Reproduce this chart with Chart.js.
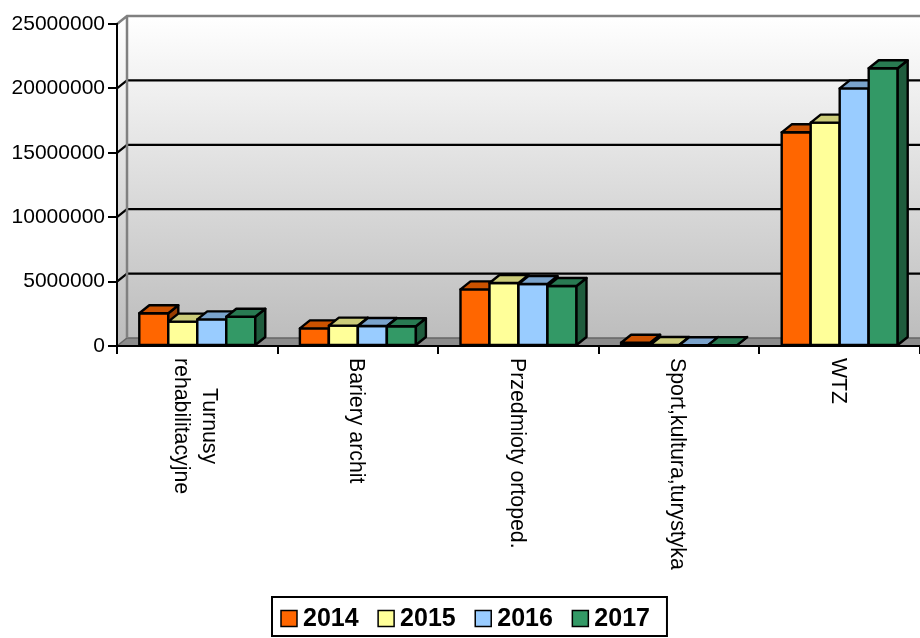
<!DOCTYPE html>
<html>
<head>
<meta charset="utf-8">
<script src="https://cdn.jsdelivr.net/npm/chart.js@4"></script>
<style>
  html, body { margin: 0; padding: 0; background: #ffffff; }
  canvas { display: block; }
</style>
</head>
<body>
<canvas id="chart" width="920" height="638"></canvas>
<script>
// Categories (first one wraps onto two lines)
const categories = [["Turnusy", "rehabilitacyjne"], "Bariery archit", "Przedmioty ortoped.", "Sport,kultura,turystyka", "WTZ"];
const years = ["2014", "2015", "2016", "2017"];

// Amounts per category, one array per year
const values2014 = [2540000, 1370000, 4400000, 250000, 16590000];
const values2015 = [1890000, 1580000, 4890000, 80000, 17340000];
const values2016 = [2070000, 1550000, 4810000, 60000, 20000000];
const values2017 = [2270000, 1530000, 4660000, 70000, 21560000];

// Value axis ticks
const valueTicks = [0, 5000000, 10000000, 15000000, 20000000, 25000000];

const seriesColors = ["#FF6600", "#FFFF99", "#99CCFF", "#339966"];
const FONT = "'Liberation Sans', Arial, sans-serif";

// Oblique depth of the 3D box (right and up)
const DX = 10, DY = -8;

function shade(hex, f) {
  const n = parseInt(hex.slice(1), 16);
  const r = Math.round(((n >> 16) & 255) * f);
  const g = Math.round(((n >> 8) & 255) * f);
  const b = Math.round((n & 255) * f);
  return "rgb(" + r + "," + g + "," + b + ")";
}

// Back wall, side wall, floor and wall gridlines
const walls3d = {
  id: "walls3d",
  beforeDraw(chart) {
    const { ctx, chartArea: a } = chart;
    const y = chart.scales.y;
    const L = a.left, T = a.top, B = a.bottom, R = chart.width + DX;
    ctx.save();
    const g = ctx.createLinearGradient(0, T + DY, 0, B + DY);
    g.addColorStop(0, "#ffffff");
    g.addColorStop(1, "#bdbdbd");
    ctx.fillStyle = g;
    ctx.fillRect(L + DX, T + DY, R - (L + DX), B - T);
    // left wall
    ctx.beginPath();
    ctx.moveTo(L, T); ctx.lineTo(L + DX, T + DY); ctx.lineTo(L + DX, B + DY); ctx.lineTo(L, B);
    ctx.closePath();
    ctx.fill();
    // floor
    ctx.fillStyle = "#8c8c8c";
    ctx.beginPath();
    ctx.moveTo(L, B); ctx.lineTo(L + DX, B + DY); ctx.lineTo(R, B + DY); ctx.lineTo(R, B);
    ctx.closePath();
    ctx.fill();
    ctx.strokeStyle = "#666666";
    ctx.lineWidth = 1.5;
    ctx.beginPath();
    ctx.moveTo(L, B); ctx.lineTo(L + DX, B + DY); ctx.lineTo(R, B + DY);
    ctx.stroke();
    // gridlines on the walls
    ctx.strokeStyle = "#000000";
    ctx.lineWidth = 2.2;
    y.ticks.forEach(t => {
      if (t.value <= y.min || t.value >= y.max) return;
      const py = y.getPixelForValue(t.value);
      ctx.beginPath();
      ctx.moveTo(L, py); ctx.lineTo(L + DX, py + DY); ctx.lineTo(R, py + DY);
      ctx.stroke();
    });
    // wall edges
    ctx.strokeStyle = "#808080";
    ctx.lineWidth = 2.5;
    ctx.beginPath();
    ctx.moveTo(L, T); ctx.lineTo(L + DX, T + DY); ctx.lineTo(R, T + DY);
    ctx.moveTo(L + DX, T + DY); ctx.lineTo(L + DX, B + DY);
    ctx.stroke();
    ctx.restore();
  }
};

// Columns as boxes: front, top and side faces
const bars3d = {
  id: "bars3d",
  afterDatasetsDraw(chart) {
    const ctx = chart.ctx;
    const nCat = chart.data.labels.length;
    const nSet = chart.data.datasets.length;
    ctx.save();
    ctx.lineWidth = 2.4;
    ctx.lineJoin = "round";
    ctx.strokeStyle = "#000000";
    for (let j = 0; j < nCat; j++) {
      for (let k = 0; k < nSet; k++) {
        const el = chart.getDatasetMeta(k).data[j];
        const p = el.getProps(["x", "y", "base", "width"], true);
        const col = chart.data.datasets[k].backgroundColor;
        const xl = p.x - p.width / 2, xr = p.x + p.width / 2;
        const yt = p.y, yb = p.base;
        // front
        ctx.fillStyle = col;
        ctx.beginPath();
        ctx.rect(xl, yt, xr - xl, yb - yt);
        ctx.fill(); ctx.stroke();
        // side
        ctx.fillStyle = shade(col, 0.6);
        ctx.beginPath();
        ctx.moveTo(xr, yt); ctx.lineTo(xr + DX, yt + DY); ctx.lineTo(xr + DX, yb + DY); ctx.lineTo(xr, yb);
        ctx.closePath();
        ctx.fill(); ctx.stroke();
        // top
        ctx.fillStyle = shade(col, 0.8);
        ctx.beginPath();
        ctx.moveTo(xl, yt); ctx.lineTo(xr, yt); ctx.lineTo(xr + DX, yt + DY); ctx.lineTo(xl + DX, yt + DY);
        ctx.closePath();
        ctx.fill(); ctx.stroke();
      }
    }
    ctx.restore();
  }
};

// Category names written downward under each group
const categoryLabels = {
  id: "categoryLabels",
  afterDraw(chart) {
    const ctx = chart.ctx;
    const x = chart.scales.x;
    const LH = 28;
    ctx.save();
    ctx.font = "21.3px " + FONT;
    ctx.fillStyle = "#000000";
    ctx.textAlign = "center";
    ctx.textBaseline = "middle";
    chart.data.labels.forEach((lab, i) => {
      const lines = Array.isArray(lab) ? lab : [lab];
      const w = Math.max(...lines.map(s => ctx.measureText(s).width));
      const cx = x.getPixelForValue(i) - 2;
      ctx.save();
      ctx.translate(cx, x.top + 12);
      ctx.rotate(Math.PI / 2);
      lines.forEach((s, li) => {
        ctx.fillText(s, w / 2, (li - (lines.length - 1) / 2) * LH);
      });
      ctx.restore();
    });
    ctx.restore();
  }
};

// Framed legend below the plot
const boxedLegend = {
  id: "boxedLegend",
  afterDraw(chart) {
    const ctx = chart.ctx;
    const sets = chart.data.datasets;
    const left = 272, top = 597, height = 39;
    const padL = 9, box = 16, gap = 6, spacing = 19.5, padR = 17;
    ctx.save();
    ctx.font = "bold 25px " + FONT;
    const widths = sets.map(d => ctx.measureText(d.label).width);
    let total = padL + padR;
    widths.forEach((w, i) => { total += box + gap + w + (i < widths.length - 1 ? spacing : 0); });
    ctx.lineWidth = 2;
    ctx.strokeStyle = "#000000";
    ctx.strokeRect(left, top, total, height);
    const cy = top + height / 2 + 2;
    let x = left + padL;
    sets.forEach((d, i) => {
      ctx.fillStyle = d.backgroundColor;
      ctx.lineWidth = 1.5;
      ctx.fillRect(x, cy - box / 2, box, box);
      ctx.strokeRect(x, cy - box / 2, box, box);
      ctx.fillStyle = "#000000";
      ctx.textBaseline = "middle";
      ctx.textAlign = "left";
      ctx.fillText(d.label, x + box + gap, cy + 1);
      x += box + gap + widths[i] + spacing;
    });
    ctx.restore();
  }
};

const seriesValues = [values2014, values2015, values2016, values2017];

new Chart(document.getElementById("chart"), {
  type: "bar",
  data: {
    labels: categories,
    datasets: years.map((yr, i) => ({
      label: yr,
      data: seriesValues[i],
      backgroundColor: seriesColors[i],
      borderWidth: 0,
      categoryPercentage: 0.7223,
      barPercentage: 1.0
    }))
  },
  options: {
    responsive: false,
    devicePixelRatio: 1,
    animation: false,
    layout: { padding: { top: 24, left: 0, right: 0, bottom: 0 } },
    plugins: {
      legend: { display: false },
      tooltip: { enabled: false }
    },
    scales: {
      x: {
        offset: true,
        grid: {
          offset: true,
          drawOnChartArea: false,
          drawTicks: true,
          tickLength: 8,
          color: "#000000",
          lineWidth: 2
        },
        border: { display: true, color: "#000000", width: 2 },
        ticks: { display: false },
        afterFit(scale) { scale.height = 292; }
      },
      y: {
        min: 0,
        max: 25000000,
        afterBuildTicks(scale) { scale.ticks = valueTicks.map(v => ({ value: v })); },
        grid: {
          drawOnChartArea: false,
          drawTicks: true,
          tickLength: 9,
          color: "#000000",
          lineWidth: 2
        },
        border: { display: true, color: "#000000", width: 2 },
        ticks: {
          padding: 3,
          color: "#000000",
          font: { family: FONT, size: 21 },
          callback: v => String(v)
        },
        afterFit(scale) { scale.width = 117; }
      }
    }
  },
  plugins: [walls3d, bars3d, categoryLabels, boxedLegend]
});
</script>
</body>
</html>
